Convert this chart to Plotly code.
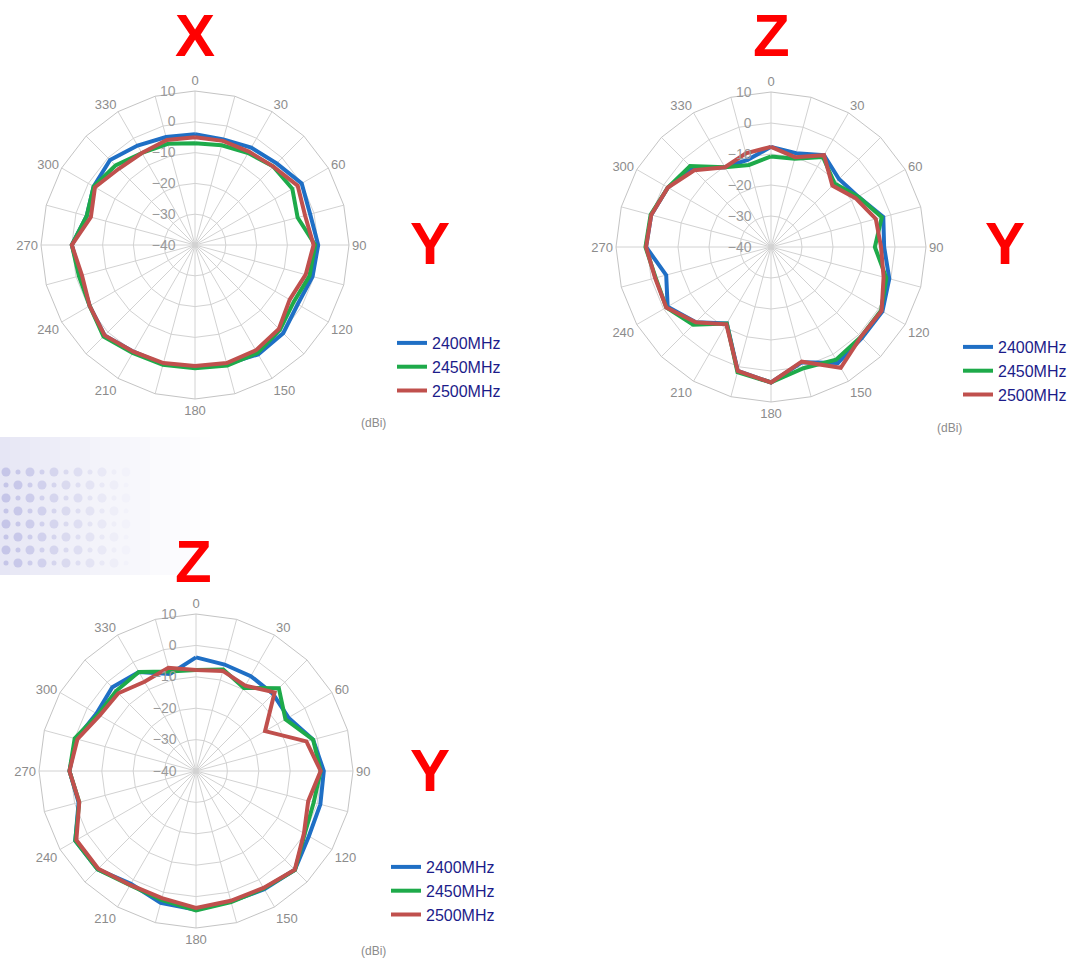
import plotly.graph_objects as go

W, H = 1076, 965

# ---------------- data ----------------
ANGLES = [str(a) for a in range(0, 360, 15)]
ANGLE_LABELS = [a if int(a) % 30 == 0 else "" for a in ANGLES]
SERIES = ["2400MHz", "2450MHz", "2500MHz"]
RADIAL_TICKS = [-40, -30, -20, -10, 0, 10]

# Plot 1: X-Y plane
x_2400 = [-4, -4.5, -3.5, -2.5, 0, -1.3, 0, -0.5, -1.5, 0.5, 1, 0, -0.5, 0, 0, 1.5, -0.5, -1.5, 0, -3.6, -2, -1, -2.7, -3.7]
x_2450 = [-7, -6.5, -5.5, -4, -3.5, -5.5, -1, -1.5, -3, -1, 0.5, 0.5, 0, 0.3, 0.5, 2, -0.5, -1, 0, -3.6, -2, -3.5, -5.5, -6]
x_2500 = [-5, -5, -5, -4, -1.5, -3, -1.5, -2.8, -4.5, -1.5, -0.5, -0.3, -0.7, -0.3, 0, 1.5, -0.5, -2, 0, -5, -2.5, -5, -5.5, -4.7]

# Plot 2: Z-Y plane (top right)
z1_2400 = [-7.7, -8.7, -5.8, -9, -7.5, -2.5, -3.5, -0.5, 1.5, 1.5, 3.2, -1.5, 3.7, 1.4, -11.5, -5.7, -1.5, -5, 0.3, 0, -1.6, -4, -10.3, -10.9]
z1_2450 = [-10.8, -10.5, -6.5, -11, -7.5, -3, -6.5, -1.5, 1, 1, 2, 0.5, 3.7, 1.8, -11.5, -4.5, -1, -1.5, 0.5, 0.2, -1.6, -3.1, -10.3, -12.6]
z1_2500 = [-7.7, -10, -5.8, -12, -8.5, -5, -4.5, -2.4, 1.2, 1, 5, -1.7, 3.7, 1.4, -11.2, -5.7, -1, -1.3, 0.3, 0, -1.6, -5, -10.3, -8.7]

# Plot 3: Z plane (bottom left)
z2_2400 = [-3.8, -4.9, -5.1, -5.3, -6, -1.4, 0.7, 1, 1.5, 4.5, 3.5, 3, 4.2, 3.5, 1.5, 4.3, 4.4, -1.3, 0.3, -0.5, -3.4, -2.3, -3.6, -8]
z2_2450 = [-7.8, -6.5, -9.5, -2.7, -7.1, -1.4, -0.3, -1.2, 0, 4.6, 3.2, 3.2, 4.4, 2.5, 2, 4.3, 4.4, -1.5, 0.3, 0, -4, -4, -3.6, -7.2]
z2_2500 = [-7.8, -7, -8.6, -4.6, -14.6, -3.6, -0.3, -3, -0.3, 4.5, 3, 2.8, 3.6, 1.9, 1.9, 4, 4, -1.5, 0.3, -0.9, -4.6, -5, -7.2, -6]

COLORS = ["#1f6fc5", "#1eaa4a", "#c0504d"]

def px(x):
    return x / W

def py(y):
    return 1 - y / H

fig = go.Figure()

plots = [
    ("polar", "legend", [x_2400, x_2450, x_2500], (195, 245, 154)),
    ("polar2", "legend2", [z1_2400, z1_2450, z1_2500], (771, 247, 155)),
    ("polar3", "legend3", [z2_2400, z2_2450, z2_2500], (196, 771, 157)),
]

for sub, leg, data, _ in plots:
    for name, vals, col in zip(SERIES, data, COLORS):
        fig.add_trace(go.Scatterpolar(
            r=vals + vals[:1], theta=ANGLES + ANGLES[:1],
            mode="lines", name=name, subplot=sub, legend=leg,
            line=dict(color=col, width=4),
        ))

polar_common = dict(
    gridshape="linear",
    bgcolor="rgba(0,0,0,0)",
    angularaxis=dict(
        type="category", categoryarray=ANGLES, direction="clockwise", rotation=90,
        tickmode="array", tickvals=ANGLES, ticktext=ANGLE_LABELS,
        showgrid=True, gridcolor="#d2d2d2", gridwidth=1,
        linecolor="#c4c4c4", linewidth=1, ticks="",
        tickfont=dict(family="Arial, Liberation Sans", size=13, color="#8c8c8c"),
    ),
    radialaxis=dict(
        range=[-40, 10], tickvals=RADIAL_TICKS, angle=90, side="counterclockwise",
        tickangle=90,
        # invisible ticks push the labels to the left of the spoke
        ticks="outside", ticklen=14, tickcolor="rgba(0,0,0,0)",
        showline=False, gridcolor="#d2d2d2", gridwidth=1,
        tickfont=dict(family="Arial, Liberation Sans", size=14, color="#9a9a9a"),
    ),
)

layout = dict(
    width=W, height=H, autosize=False,
    margin=dict(l=0, r=0, t=0, b=0),
    paper_bgcolor="white", plot_bgcolor="white",
)

for sub, leg, _, (cx, cy, rad) in plots:
    layout[sub] = dict(polar_common, domain=dict(
        x=[px(cx - rad), px(cx + rad)], y=[py(cy + rad), py(cy - rad)]))

leg_pos = {"legend": (392, 326), "legend2": (958, 330), "legend3": (386, 850)}
for leg, (lx, ly) in leg_pos.items():
    layout[leg] = dict(
        x=px(lx), y=py(ly), xanchor="left", yanchor="top",
        bgcolor="rgba(0,0,0,0)", borderwidth=0,
        font=dict(family="Arial, Liberation Sans", size=16, color="#1c1c8a"),
        tracegroupgap=0, itemwidth=30,
    )

fig.update_layout(**layout)

# Decorative background (left middle)
shapes = []
nstrip = 22
for i in range(nstrip):
    x0 = i * 10
    op = max(0.0, 0.6 * (1 - i / nstrip) ** 1.3)
    shapes.append(dict(type="rect", xref="paper", yref="paper", layer="below",
                       x0=px(x0), x1=px(x0 + 10), y0=py(575), y1=py(437),
                       fillcolor=f"rgba(214,214,238,{op:.3f})", line=dict(width=0)))
for row, yy in enumerate(range(472, 572, 13)):
    for col, xx in enumerate(range(6, 130, 12)):
        big = (row + col) % 2 == 0
        s = 4.5 if big else 2.5
        fade = max(0.0, 1 - xx / 135)
        shapes.append(dict(type="circle", xref="paper", yref="paper", layer="below",
                           x0=px(xx - s), x1=px(xx + s), y0=py(yy + s), y1=py(yy - s),
                           fillcolor=f"rgba(180,180,225,{0.7 * fade:.3f})", line=dict(width=0)))
fig.update_layout(shapes=shapes)

# Big red axis letters and unit labels
letters = [("X", 195, 35), ("Y", 430, 244), ("Z", 771, 35), ("Y", 1005, 244), ("Z", 193, 561), ("Y", 430, 770)]
for t, x, y in letters:
    fig.add_annotation(text=f"<b>{t}</b>", x=px(x), y=py(y), xref="paper", yref="paper",
                       showarrow=False, xanchor="center", yanchor="middle",
                       font=dict(family="Arial, Liberation Sans", size=60, color="#ff0000"))
for x, y in [(373, 423), (949, 428), (373, 951)]:
    fig.add_annotation(text="(dBi)", x=px(x), y=py(y), xref="paper", yref="paper",
                       showarrow=False, xanchor="center", yanchor="middle",
                       font=dict(family="Arial, Liberation Sans", size=12, color="#8c8c8c"))

# remove the default page margin so the figure fills the 1076x965 window exactly
fig.write_html("out.html", config={"displayModeBar": False},
               post_script="document.body.style.margin='0';")
